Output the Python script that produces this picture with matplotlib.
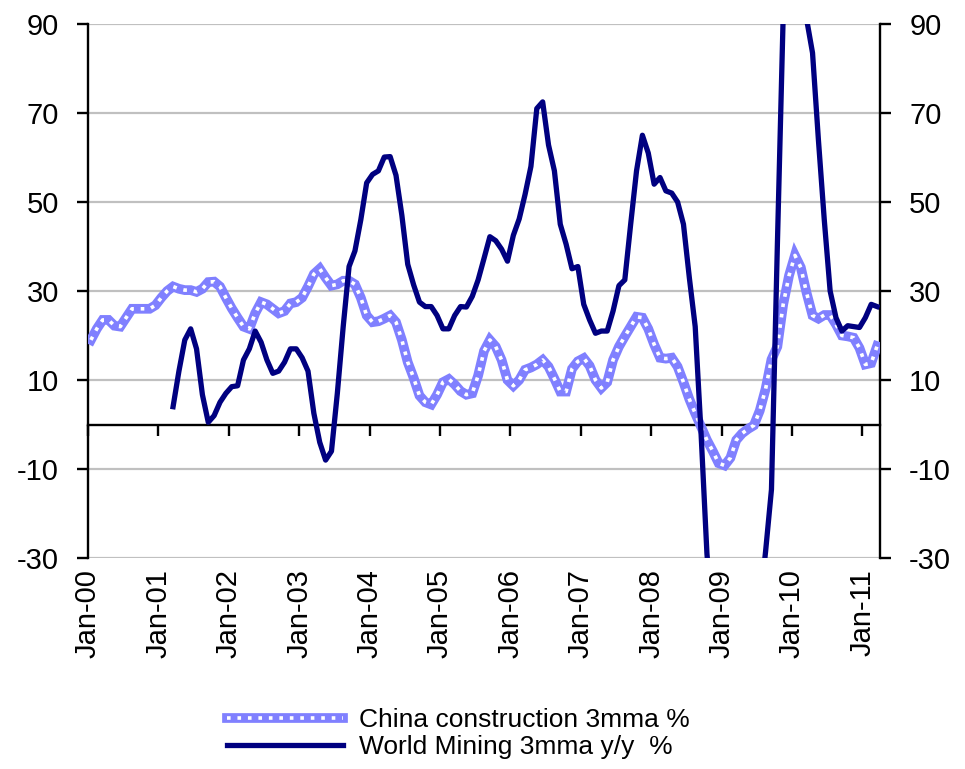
"""China construction vs world mining, 3mma, Jan-00 to Mar-11."""

import matplotlib

matplotlib.use("Agg")
import matplotlib.pyplot as plt
import numpy as np

_LIGHT = "#8080FF"
_NAVY = "#000080"
_GRID = "#C0C0C0"

plt.rcParams["font.family"] = ["Liberation Sans", "DejaVu Sans"]
plt.rcParams["axes.unicode_minus"] = False

# monthly values, first point Jan-00
china_construction = [
    19, 21.5, 23.5, 23.5, 22.2, 22, 24, 26, 26, 26,
    26, 26.8, 28.5, 30, 31, 30.5, 30.2, 30.2, 29.8, 30.5,
    32, 32.1, 31, 28.5, 26.1, 24, 22, 21.5, 25, 27.5,
    27, 26, 25, 25.5, 27.2, 27.5, 28.5, 31, 33.8, 35,
    33, 31.2, 31.5, 32.3, 32.3, 31.5, 28.5, 24.5, 23, 23.2,
    23.8, 24.5, 23, 19, 14, 10.5, 6.5, 5, 4.5, 6.7,
    9.5, 10.2, 9, 7.5, 6.7, 7, 11, 16.5, 19, 17.5,
    14.5, 10, 8.7, 10, 12.3, 12.8, 13.5, 14.5, 13, 10.3,
    7.4, 7.4, 12.5, 14.2, 14.9, 13.2, 10, 8.2, 9.5, 14.5,
    17.5, 19.8, 22, 24.2, 24, 21.5, 18, 15, 14.8, 15,
    13, 9.5, 5.7, 2.5, -0.5, -3.5, -6, -8.7, -9.2, -7.5,
    -3.5, -2, -1, -0.2, 3.1, 8, 14.6, 17.5, 27, 33.5,
    38, 35.3, 29.5, 24.5, 23.8, 24.6, 24.6, 22.5, 20, 19.8,
    19.5, 17.2, 13.5, 13.8, 17.6,
]

# world mining starts Mar-01 (month 14)
mining_start = 14
world_mining = [
    4, 12, 19, 21.5, 17, 6.7, 0.5, 2, 5, 7,
    8.5, 8.7, 14.5, 17, 21, 18.5, 14.5, 11.5, 12, 14,
    17, 17, 15, 12, 2.5, -4, -8, -6, 7, 22,
    35.5, 39, 46, 54.3, 56.2, 57, 60.1, 60.2, 56, 47,
    36, 31.4, 27.5, 26.5, 26.5, 24.5, 21.5, 21.5, 24.5, 26.5,
    26.4, 28.8, 32.5, 37.3, 42.2, 41.3, 39.4, 36.7, 42.5, 46.2,
    51.7, 58, 71, 72.5, 62.8, 57, 45, 40.5, 35, 35.5,
    27, 23.5, 20.5, 21, 21, 25.5, 31.2, 32.5, 45, 57,
    65, 61, 54, 55.5, 52.5, 52, 50, 45, 33, 22,
    -2, -29, -45, -52, -55, -57, -56, -54, -50, -46,
    -41, -28.5, -14.6, 40, 92, 110, 118, 112, 91, 83.5,
    64, 46, 30, 24, 21, 22.2, 22, 21.8, 24, 27,
    26.5,
]

tick_labels = ["Jan-00", "Jan-01", "Jan-02", "Jan-03", "Jan-04", "Jan-05",
               "Jan-06", "Jan-07", "Jan-08", "Jan-09", "Jan-10", "Jan-11"]
y_ticks = [-30, -10, 10, 30, 50, 70, 90]

x_china = np.arange(len(china_construction)) + 0.5
x_mining = np.arange(mining_start, mining_start + len(world_mining)) + 0.5

fig = plt.figure(figsize=(9.65, 7.69), dpi=100)
ax = fig.add_axes([88 / 965, 1 - 558 / 769, 792 / 965, 534 / 769])

base, = ax.plot(x_china, china_construction, color=_LIGHT, linewidth=7.0,
                solid_joinstyle="miter", zorder=3)
dots, = ax.plot(x_china, china_construction, color="white", linewidth=2.6,
                dashes=(1.0, 1.9), dash_capstyle="butt", zorder=3.1)
mining, = ax.plot(x_mining, world_mining, color=_NAVY, linewidth=3.8,
                  zorder=4)

ax.set_xlim(0, len(china_construction))
ax.set_ylim(-30, 90)
ax.set_yticks(y_ticks)
ax.set_xticks(np.arange(len(tick_labels)) * 12)
ax.set_xticklabels(tick_labels)

ax.grid(axis="y", color=_GRID, linewidth=1.6)
ax.set_axisbelow(True)
ax.spines["top"].set_visible(False)
ax.spines["bottom"].set_position(("data", 0))
for side in ("left", "right", "bottom"):
    ax.spines[side].set_linewidth(1.7)
    ax.spines[side].set_zorder(2.5)

ax.tick_params(axis="y", which="both", direction="out", length=8, width=1.7,
               left=True, right=True, labelleft=True, labelright=True,
               labelsize=21, pad=13)
ax.tick_params(axis="x", direction="out", length=8, width=1.7,
               labelsize=21, pad=96, labelrotation=90)

fig.legend(
    [(base, dots), mining],
    ["China construction 3mma %", "World Mining 3mma y/y  %"],
    loc="center",
    bbox_to_anchor=(0.475, 0.046),
    frameon=False,
    fontsize=19,
    handlelength=4.4,
    handletextpad=0.6,
    labelspacing=0.1,
    borderpad=0.0,
)

fig.savefig("out.png", dpi=100)
plt.close(fig)
